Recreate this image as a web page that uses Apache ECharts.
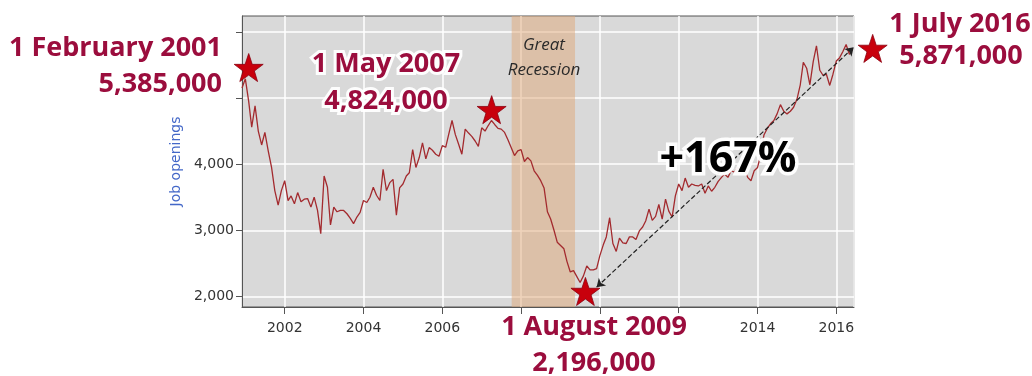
<!DOCTYPE html>
<html>
<head>
<meta charset="utf-8">
<title>Job openings</title>
<script src="https://cdn.jsdelivr.net/npm/echarts@6/dist/echarts.min.js"></script>
<style>
    html, body { margin: 0; padding: 0; background: #fff; }
    #chart { width: 1032px; height: 376px; }
</style>
</head>
<body>
<div id="chart"></div>
<script>
// monthly series starts Dec 2000 (thousands)
var firstYear = 2000, firstMonth = 12;
var openings = [
    5150,
    5290, 4950, 4560, 4880, 4500, 4290, 4480, 4200, 3950, 3600, 3380, 3600,   // 2001
    3750, 3450, 3520, 3400, 3570, 3430, 3470, 3480, 3350, 3500, 3300, 2950,   // 2002
    3820, 3650, 3080, 3350, 3280, 3300, 3300, 3250, 3180, 3100, 3200, 3270,   // 2003
    3450, 3420, 3500, 3650, 3530, 3450, 3920, 3600, 3720, 3770, 3230, 3640,   // 2004
    3700, 3820, 3870, 4220, 3950, 4100, 4320, 4080, 4250, 4210, 4150, 4120,   // 2005
    4280, 4255, 4450, 4660, 4450, 4300, 4150, 4530, 4470, 4420, 4350, 4270,   // 2006
    4550, 4500, 4580, 4660, 4600, 4540, 4530, 4480, 4370, 4250, 4130, 4200,   // 2007
    4220, 4040, 4100, 4050, 3900, 3830, 3750, 3640, 3280, 3170, 3000, 2820,   // 2008
    2770, 2720, 2530, 2370, 2390, 2300, 2210, 2310, 2460, 2400, 2400, 2420,   // 2009
    2620, 2780, 2900, 3190, 2800, 2680, 2880, 2810, 2800, 2900, 2900, 2860,   // 2010
    2990, 3050, 3140, 3320, 3150, 3210, 3390, 3170, 3470, 3290, 3200, 3520,   // 2011
    3700, 3600, 3790, 3650, 3700, 3680, 3670, 3700, 3560, 3670, 3590, 3650,   // 2012
    3740, 3800, 3850, 3800, 3900, 3880, 3950, 3900, 3950, 3800, 3750, 3900,   // 2013
    3950, 4150, 4440, 4540, 4610, 4660, 4760, 4900, 4800, 4760, 4800, 4860,   // 2014
    4980, 5200, 5540, 5450, 5200, 5550, 5790, 5420, 5340, 5360, 5190, 5360,   // 2015
    5560, 5610, 5700, 5810, 5660, 5750                                        // 2016
];

var recession = ['2007-10-06', '2009-05-15'];
var recessionLabel = ['Great', 'Recession'];

var markDates  = ['2001-02-01', '2007-05-01', '2009-08-01', '2016-06-10'];
var markValues = [5385, 4824, 2196, 5871];
var markTitles = ['1 February 2001', '1 May 2007', '1 August 2009', '1 July 2016'];
var markNums   = ['5,385,000', '4,824,000', '2,196,000', '5,871,000'];

var arrowFrom = ['2009-12-01', 2140];
var arrowTo   = ['2016-06-10', 5766];
var growthLabel = '+167%';

var yTicks  = [2000, 3000, 4000, 5000, 6000];
var yLabels = [2000, 3000, 4000];
var xLabelYears = [2002, 2004, 2006, 2014, 2016];

var xMin = '2000-12-01', xMax = '2016-06-13';
var yMin = 1840, yMax = 6240;

function pad(n) { return n < 10 ? '0' + n : '' + n; }

var seriesData = [];
for (var i = 0; i < openings.length; i++) {
    var mm = firstMonth - 1 + i;
    var yy = firstYear + Math.floor(mm / 12);
    seriesData.push([yy + '-' + pad(mm % 12 + 1) + '-01', openings[i]]);
}

var STAR = 'path://M50,0 L61.8,35.1 L98.1,35.1 L68.8,56.7 L79.4,91 L50,70 L20.6,91 L31.2,56.7 L1.9,35.1 L38.2,35.1 Z';
var starNudge = [[0, -5], [-3, 0], [2, 8], [19, 8]];

var stars = [];
for (var k = 0; k < markDates.length; k++) {
    stars.push({
        coord: [markDates[k], markValues[k]],
        symbolOffset: starNudge[k]
    });
}

var MAROON = '#9b0d3d';
function glow(x, y, txt, align, font, color, width) {
    return {
        type: 'text',
        x: x, y: y,
        z: 100,
        silent: true,
        style: {
            text: txt,
            font: font,
            fill: color,
            align: align,
            verticalAlign: 'middle',
            stroke: 'rgba(255,255,255,0.95)',
            lineWidth: width,
            shadowColor: '#fff',
            shadowBlur: 8
        }
    };
}

var bigFont = 'bold 27px "Open Sans"';
var textPos = [
    [[222, 48, 'right'], [222, 84, 'right']],
    [[386, 64, 'center'], [386, 101, 'center']],
    [[594, 327, 'center'], [594, 363, 'center']],
    [[960, 24, 'center'], [961, 56, 'center']]
];
var graphics = [];
for (var t = 0; t < markTitles.length; t++) {
    graphics.push(glow(textPos[t][0][0], textPos[t][0][1], markTitles[t], textPos[t][0][2], bigFont, MAROON, 6));
    graphics.push(glow(textPos[t][1][0], textPos[t][1][1], markNums[t], textPos[t][1][2], bigFont, MAROON, 6));
}
graphics.push(glow(728, 160, growthLabel, 'center', 'bold 43px "Open Sans"', '#000', 7));
graphics.push({
    type: 'text', x: 544, y: 45, z: 100, silent: true,
    style: { text: recessionLabel[0], font: 'italic 17px "Open Sans"', fill: '#2a2a2a', align: 'center', verticalAlign: 'middle' }
});
graphics.push({
    type: 'text', x: 544, y: 70, z: 100, silent: true,
    style: { text: recessionLabel[1], font: 'italic 17px "Open Sans"', fill: '#2a2a2a', align: 'center', verticalAlign: 'middle' }
});

var chart = echarts.init(document.getElementById('chart'));
var option = {
    animation: false,
    grid: {
        left: 242, right: 178, top: 16, bottom: 69,
        show: true,
        backgroundColor: '#d9d9d9',
        borderColor: '#555',
        borderWidth: 1
    },
    xAxis: {
        type: 'time',
        min: xMin, max: xMax,
        splitNumber: 8,
        axisLine: { lineStyle: { color: '#555' } },
        axisTick: { show: true, length: 7, lineStyle: { color: '#555' } },
        axisLabel: {
            color: '#333', fontSize: 14, fontFamily: 'DejaVu Sans', margin: 14,
            showMinLabel: false, showMaxLabel: false,
            formatter: function (v) {
                var d = new Date(v);
                var y = d.getFullYear();
                if (d.getMonth() !== 0 || d.getDate() !== 1) return '';
                return xLabelYears.indexOf(y) >= 0 ? String(y) : '';
            }
        },
        splitLine: { show: true, lineStyle: { color: '#fff', width: 1.5 } }
    },
    yAxis: {
        type: 'value',
        min: yMin, max: yMax,
        name: 'Job openings',
        nameLocation: 'middle',
        nameGap: 58,
        nameTextStyle: { color: '#4468c8', fontSize: 14, fontFamily: 'DejaVu Sans' },
        axisLine: { show: true, lineStyle: { color: '#555' } },
        axisTick: { show: true, length: 6, lineStyle: { color: '#555' }, customValues: yTicks },
        axisLabel: {
            color: '#333', fontSize: 14, fontFamily: 'DejaVu Sans', margin: 8,
            customValues: yLabels,
            formatter: function (v) {
                return echarts.format.addCommas(v);
            }
        },
        splitLine: { show: true, lineStyle: { color: '#fff', width: 1.5 } }
    },
    series: [
        {
            name: 'band',
            type: 'line',
            z: 1,
            data: [],
            silent: true,
            markArea: {
                silent: true,
                itemStyle: { color: 'rgba(223,167,119,0.5)' },
                data: [[{ xAxis: recession[0] }, { xAxis: recession[1] }]]
            }
        },
        {
            name: 'Job openings',
            type: 'line',
            z: 3,
            clip: false,
            showSymbol: false,
            symbol: 'none',
            lineStyle: { color: '#a32a2e', width: 1.3 },
            data: seriesData,
            markLine: {
                silent: true,
                symbol: ['arrow', 'arrow'],
                symbolSize: 8,
                label: { show: false },
                lineStyle: { color: '#222', type: 'dashed', width: 1.2 },
                data: [[{ coord: arrowFrom }, { coord: arrowTo }]]
            },
            markPoint: {
                silent: true,
                symbol: STAR,
                symbolSize: [29, 28],
                itemStyle: { color: '#c8000c', borderColor: '#8a0010', borderWidth: 0.8 },
                label: { show: false },
                data: stars
            }
        }
    ],
    graphic: graphics
};
chart.setOption(option);
</script>
</body>
</html>
